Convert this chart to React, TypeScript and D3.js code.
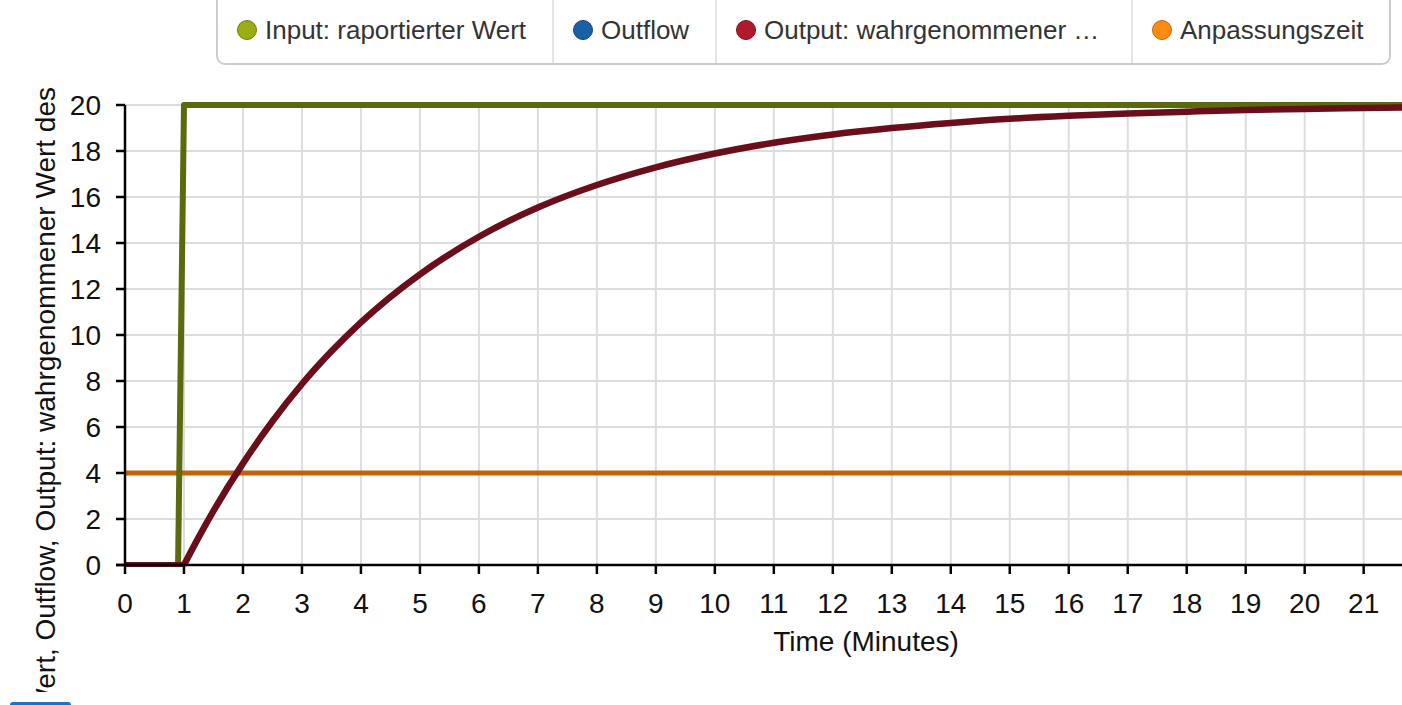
import React from "react";
import * as d3 from "d3";

const xTickValues = [0, 1, 2, 3, 4, 5, 6, 7, 8, 9, 10, 11, 12, 13, 14, 15, 16, 17, 18, 19, 20, 21];
const yTickValues = [0, 2, 4, 6, 8, 10, 12, 14, 16, 18, 20];
const xDomain = [0, 21.65];
const yDomain = [0, 20];

const inputTime = [0, 0.9, 1, 21.65];
const inputValue = [0, 0, 20, 20];

const outputFlatTime = [0, 1];
const outputFlatValue = [0, 0];
const outputTime = [1, 1.25, 1.5, 2, 2.5, 3, 3.5, 4, 5, 6, 7, 8, 9, 10, 11, 12, 13, 14, 15, 16, 17, 18, 19, 20, 21, 21.65];
const outputValue = [0, 1.21, 2.35, 4.42, 6.25, 7.87, 9.29, 10.55, 12.64, 14.27, 15.54, 16.52, 17.29, 17.89, 18.36, 18.72, 19.0, 19.22, 19.4, 19.53, 19.63, 19.71, 19.78, 19.83, 19.87, 19.89];

const adjTime = [0, 21.65];
const adjValue = [4, 4];

const legendLabels = ["Input: raportierter Wert", "Outflow", "Output: wahrgenommener …", "Anpassungszeit"];
const legendColors = ["#9aad14", "#1b5fa6", "#b01a2c", "#ff8a12"];
const legendStroke = ["#6f7d0c", "#124578", "#7d1020", "#c4660a"];

const W = 1402;
const H = 705;
const M = { left: 125, right: 1402, top: 105, bottom: 565 };
const FONT = "'Liberation Sans', Arial, sans-serif";

export default function App() {
  const x = d3.scaleLinear().domain(xDomain).range([M.left, M.right]);
  const y = d3.scaleLinear().domain(yDomain).range([M.bottom, M.top]);

  const lineLinear = d3
    .line<[number, number]>()
    .x((d) => x(d[0]))
    .y((d) => y(d[1]));
  const lineSmooth = d3
    .line<[number, number]>()
    .x((d) => x(d[0]))
    .y((d) => y(d[1]))
    .curve(d3.curveMonotoneX);

  const inputPts = inputTime.map((t, i) => [t, inputValue[i]] as [number, number]);
  const flatPts = outputFlatTime.map((t, i) => [t, outputFlatValue[i]] as [number, number]);
  const outputPts = outputTime.map((t, i) => [t, outputValue[i]] as [number, number]);
  const adjPts = adjTime.map((t, i) => [t, adjValue[i]] as [number, number]);

  const legendX = [217, 553, 716, 1132, 1390];

  return (
    <svg
      width={W}
      height={H}
      style={{ position: "absolute", left: 0, top: 0, background: "#fff" }}
      fontFamily={FONT}
    >
      <defs>
        <clipPath id="plot">
          <rect x={M.left} y={M.top - 10} width={M.right - M.left} height={M.bottom - M.top + 12} />
        </clipPath>
        <clipPath id="ylab">
          <rect x={0} y={70} width={110} height={622} />
        </clipPath>
      </defs>

      {/* grid */}
      <g stroke="#dddddd" strokeWidth={2}>
        {xTickValues.map((v) => (
          <line key={"gx" + v} x1={x(v)} x2={x(v)} y1={M.top} y2={M.bottom} />
        ))}
        {yTickValues.map((v) => (
          <line key={"gy" + v} x1={M.left} x2={M.right} y1={y(v)} y2={y(v)} />
        ))}
      </g>

      {/* lines */}
      <g clipPath="url(#plot)" fill="none" strokeLinejoin="round">
        <path d={lineLinear(adjPts) || ""} stroke="#c0620a" strokeWidth={5} />
        <path d={lineLinear(inputPts) || ""} stroke="#5b6a0c" strokeWidth={6} />
        <path d={lineLinear(flatPts) || ""} stroke="#6a0e1c" strokeWidth={6} />
        <path d={lineSmooth(outputPts) || ""} stroke="#6a0e1c" strokeWidth={6.5} />
      </g>

      {/* axes */}
      <g stroke="#000" strokeWidth={2.5}>
        <line x1={M.left} x2={M.left} y1={M.top} y2={M.bottom} />
        <line x1={M.left - 9} x2={M.right} y1={M.bottom} y2={M.bottom} />
        {yTickValues.map((v) => (
          <line key={"ty" + v} x1={M.left - 9} x2={M.left} y1={y(v)} y2={y(v)} />
        ))}
        {xTickValues.map((v) => (
          <line key={"tx" + v} x1={x(v)} x2={x(v)} y1={M.bottom} y2={M.bottom + 9} />
        ))}
      </g>
      <g fontSize={28} fill="#111">
        {yTickValues.map((v) => (
          <text key={"ly" + v} x={M.left - 24} y={y(v)} textAnchor="end" dominantBaseline="central">
            {v}
          </text>
        ))}
        {xTickValues.map((v) => (
          <text key={"lx" + v} x={x(v)} y={613} textAnchor="middle">
            {v}
          </text>
        ))}
        <text x={866} y={651} textAnchor="middle">
          Time (Minutes)
        </text>
      </g>
      <g clipPath="url(#ylab)">
        <text
          transform="translate(55,87) rotate(-90)"
          textAnchor="end"
          fontSize={28}
          fill="#111"
        >
          Input: raportierter Wert, Outflow, Output: wahrgenommener Wert des
        </text>
      </g>

      {/* legend */}
      <rect x={217} y={-10} width={legendX[4] - 217} height={74} rx={8} fill="#fff" stroke="#cccccc" strokeWidth={2} />
      {legendX.slice(1, 4).map((lx) => (
        <line key={"sep" + lx} x1={lx} x2={lx} y1={0} y2={63} stroke="#dddddd" strokeWidth={1.5} />
      ))}
      {legendLabels.map((lab, i) => (
        <g key={lab}>
          <circle cx={legendX[i] + 30} cy={30} r={9.5} fill={legendColors[i]} stroke={legendStroke[i]} strokeWidth={1} />
          <text x={legendX[i] + 48} y={39} fontSize={26} fill="#333">
            {lab}
          </text>
        </g>
      ))}

      {/* bottom-left blue element */}
      <rect x={10} y={702} width={61} height={8} rx={3} fill="#1a73c8" />
    </svg>
  );
}
